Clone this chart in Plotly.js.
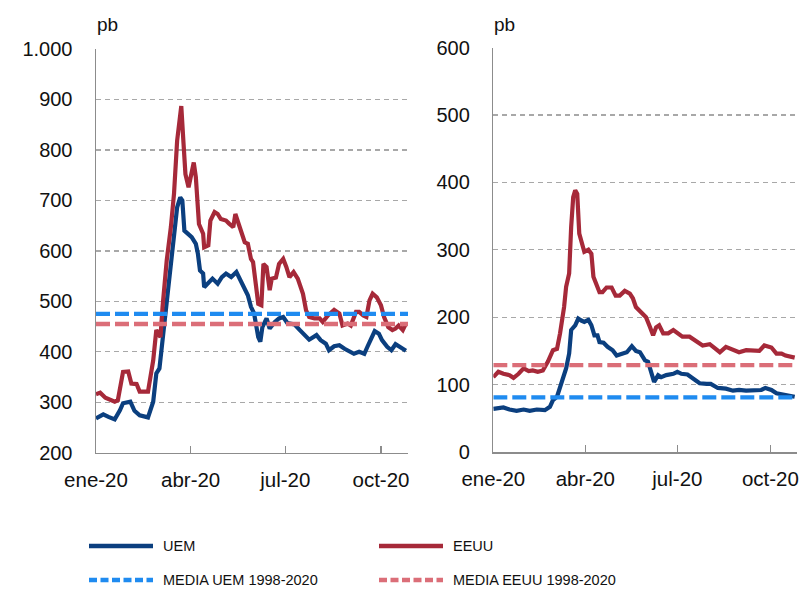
<!DOCTYPE html>
<html>
<head>
<meta charset="utf-8">
<script src="https://cdn.plot.ly/plotly-3.0.1.min.js"></script>
<style>html,body{margin:0;padding:0;background:#fff}#chart{width:805px;height:589px}</style>
</head>
<body>
<div id="chart"></div>
<script>
// ---------- DATA ----------
const xTickVals = ['2020-01-01', '2020-04-01', '2020-07-01', '2020-10-01'];
const xTickText = ['ene-20', 'abr-20', 'jul-20', 'oct-20'];
const xRange = ['2020-01-01', '2020-10-27'];

// Left panel (pb)
const datesUemL = ['01-01','01-08','01-13','01-19','01-24','01-27','02-03','02-07','02-12','02-20','02-25','02-28','03-02','03-05','03-09','03-12','03-15','03-19','03-22','03-24','03-26','03-29','04-02','04-06','04-08','04-10','04-13','04-14','04-18','04-22','04-27','05-01','05-05','05-10','05-15','05-19','05-23','05-26','05-29','06-01','06-05','06-07','06-09','06-13','06-16','06-21','06-25','06-29','07-03','07-10','07-15','07-19','07-24','07-31','08-04','08-09','08-12','08-17','08-22','08-27','09-01','09-05','09-10','09-15','09-18','09-22','09-25','09-29','10-02','10-07','10-11','10-15','10-18','10-22','10-25'];
const uemL = [268,276,271,266,284,298,301,283,274,270,301,357,367,423,489,561,614,686,706,700,640,634,627,614,594,561,555,528,538,545,535,548,555,548,558,541,528,512,489,476,429,420,449,466,446,459,466,469,457,454,443,435,424,433,423,416,403,411,413,406,400,396,400,396,410,426,441,436,423,410,403,415,410,406,402];

const datesEeuuL = ['01-01','01-05','01-10','01-19','01-22','01-27','02-01','02-04','02-09','02-12','02-20','02-25','02-28','03-03','03-05','03-09','03-13','03-16','03-19','03-21','03-23','03-25','03-27','03-30','04-02','04-04','04-06','04-09','04-13','04-14','04-18','04-20','04-24','04-27','04-30','05-05','05-08','05-12','05-14','05-16','05-20','05-23','05-26','05-29','05-31','06-03','06-05','06-08','06-10','06-13','06-16','06-18','06-22','06-25','06-29','07-02','07-05','07-09','07-13','07-18','07-21','07-24','07-29','08-03','08-06','08-11','08-17','08-22','08-25','08-30','09-02','09-07','09-10','09-14','09-17','09-20','09-23','09-27','10-01','10-04','10-08','10-12','10-15','10-18','10-22','10-25'];
const eeuuL = [316,319,309,301,304,360,361,337,336,321,321,383,443,429,489,581,647,713,818,858,887,818,752,726,759,775,746,653,634,607,611,660,677,673,663,660,654,647,673,660,640,617,614,584,578,528,495,492,574,568,522,545,547,574,584,568,548,558,545,515,482,469,466,466,459,472,483,476,452,456,452,479,479,472,469,502,515,508,492,469,449,443,446,452,443,456];

const mediaUemL = 475;
const mediaEeuuL = 455;

// Right panel (pb)
const datesUemR = ['01-01','01-11','01-17','01-24','01-31','02-06','02-13','02-21','02-26','02-29','03-04','03-08','03-13','03-16','03-18','03-22','03-25','03-28','03-31','04-04','04-07','04-10','04-13','04-15','04-19','04-23','04-28','05-02','05-07','05-12','05-17','05-21','05-25','05-30','06-02','06-05','06-08','06-12','06-15','06-20','06-27','07-01','07-05','07-11','07-16','07-23','07-30','08-03','08-10','08-18','08-25','08-31','09-07','09-15','09-22','09-26','10-02','10-07','10-12','10-16','10-25'];
const uemR = [64,66,63,61,63,61,63,62,67,77,82,101,124,146,181,188,198,195,193,196,188,173,173,163,162,156,151,143,146,148,157,150,148,136,134,116,104,114,111,114,116,119,116,115,109,102,101,101,95,94,91,92,91,91,92,95,92,87,86,84,82];

const datesEeuuR = ['01-01','01-06','01-11','01-17','01-21','01-26','01-31','02-05','02-09','02-14','02-19','02-24','02-29','03-04','03-07','03-11','03-13','03-16','03-18','03-20','03-22','03-24','03-26','03-29','03-31','04-04','04-07','04-09','04-12','04-15','04-18','04-22','04-27','05-01','05-05','05-10','05-15','05-18','05-21','05-26','05-31','06-04','06-07','06-10','06-13','06-17','06-22','06-27','07-02','07-06','07-13','07-20','07-26','08-02','08-07','08-12','08-18','08-25','08-31','09-07','09-14','09-20','09-25','10-02','10-07','10-12','10-16','10-25'];
const eeuuR = [111,119,116,114,110,116,124,120,121,119,121,134,151,153,176,215,245,265,334,378,388,383,324,307,297,300,294,260,250,237,237,244,244,232,232,239,235,228,215,208,200,185,173,185,188,176,176,181,176,171,171,163,158,160,153,148,156,152,148,151,150,150,158,155,146,146,143,140];

const mediaUemR = 81;
const mediaEeuuR = 129;

const legendNames = ['UEM', 'EEUU', 'MEDIA UEM 1998-2020', 'MEDIA EEUU 1998-2020'];
const unitLabel = 'pb';

// ---------- STYLE ----------
const W = 805, H = 589;
const C_UEM = '#0B3F7F', C_EEUU = '#A62939', C_MUEM = '#1F8BF0', C_MEEUU = '#DB6E78';
const FONT = 'Liberation Sans, Arial, Helvetica, sans-serif';
const LFONT = 'Liberation Sans Narrow, Liberation Sans, sans-serif';
const toDate = d => '2020-' + d;
const px = x => x / W;
const py = y => 1 - y / H;

function line(xs, ys, color, xa, ya, dash, width) {
  return {type: 'scatter', mode: 'lines', x: xs, y: ys, xaxis: xa, yaxis: ya,
    line: {color: color, width: width, dash: dash || 'solid'}, hoverinfo: 'skip', showlegend: false};
}
function flat(v) { return [v, v]; }

const traces = [
  line(datesUemL.map(toDate), uemL, C_UEM, 'x', 'y', 'solid', 4.2),
  line(datesEeuuL.map(toDate), eeuuL, C_EEUU, 'x', 'y', 'solid', 4.2),
  line(xRange, flat(mediaUemL), C_MUEM, 'x', 'y', '14px,5px', 4.3),
  line(xRange, flat(mediaEeuuL), C_MEEUU, 'x', 'y', '14px,5px', 4.3),
  line(datesUemR.map(toDate), uemR, C_UEM, 'x2', 'y2', 'solid', 4.2),
  line(datesEeuuR.map(toDate), eeuuR, C_EEUU, 'x2', 'y2', 'solid', 4.2),
  line(xRange, flat(mediaUemR), C_MUEM, 'x2', 'y2', '14px,5px', 4.3),
  line(xRange, flat(mediaEeuuR), C_MEEUU, 'x2', 'y2', '14px,5px', 4.3)
];

function xaxis(domain, anchor) {
  return {domain: domain, anchor: anchor, type: 'date', range: xRange,
    tickmode: 'array', tickvals: xTickVals, ticktext: xTickText,
    ticks: 'inside', ticklen: 7, tickwidth: 1.3, tickcolor: '#8c8c8c',
    showline: true, linecolor: '#8c8c8c', linewidth: 1.5, showgrid: false, zeroline: false,
    tickfont: {family: FONT, size: 20.5, color: '#111'}, ticklabelstandoff: 8, automargin: false};
}
function yaxis(domain, anchor, range, dtick) {
  return {domain: domain, anchor: anchor, range: range, dtick: dtick, tick0: 0,
    showline: true, linecolor: '#8c8c8c', linewidth: 1.5, zeroline: false,
    showgrid: true, gridcolor: '#a8a8a8', gridwidth: 1.3, griddash: '5px,4px',
    ticks: '', separatethousands: true, ticklabelstandoff: 18,
    tickfont: {family: FONT, size: 20, color: '#111'}, automargin: false};
}

const shapes = [];
const annotations = [];
function legendItem(x0, x1, y, color, dash, text) {
  shapes.push({type: 'line', xref: 'paper', yref: 'paper', x0: px(x0), x1: px(x1), y0: py(y), y1: py(y),
    line: {color: color, width: 4.5, dash: dash}});
  annotations.push({xref: 'paper', yref: 'paper', x: px(x1 + 8), y: py(y), xanchor: 'left', yanchor: 'middle',
    align: 'left', text: text, showarrow: false, font: {family: LFONT, size: 14.5, color: '#111'}});
}
legendItem(89, 153, 546, C_UEM, 'solid', legendNames[0]);
legendItem(379, 443, 546, C_EEUU, 'solid', legendNames[1]);
legendItem(89, 153, 580, C_MUEM, '8px,3.5px', legendNames[2]);
legendItem(379, 443, 580, C_MEEUU, '8px,3.5px', legendNames[3]);

annotations.push({xref: 'paper', yref: 'paper', x: px(95), y: py(25), xanchor: 'left', yanchor: 'middle',
  text: unitLabel, showarrow: false, font: {family: FONT, size: 19, color: '#111'}});
annotations.push({xref: 'paper', yref: 'paper', x: px(492), y: py(25), xanchor: 'left', yanchor: 'middle',
  text: unitLabel, showarrow: false, font: {family: FONT, size: 19, color: '#111'}});

const layout = {
  width: W, height: H, margin: {l: 0, r: 0, t: 0, b: 0},
  paper_bgcolor: '#fff', plot_bgcolor: '#fff', showlegend: false,
  separators: ',.',
  font: {family: FONT, color: '#111'},
  xaxis: xaxis([px(96), px(408)], 'y'),
  yaxis: yaxis([py(452.7), py(49)], 'x', [200, 1000], 100),
  xaxis2: xaxis([px(493.3), px(796.7)], 'y2'),
  yaxis2: yaxis([py(452), py(47.5)], 'x2', [0, 600], 100),
  shapes: shapes, annotations: annotations
};

Plotly.newPlot('chart', traces, layout, {displayModeBar: false, staticPlot: true});
</script>
</body>
</html>
